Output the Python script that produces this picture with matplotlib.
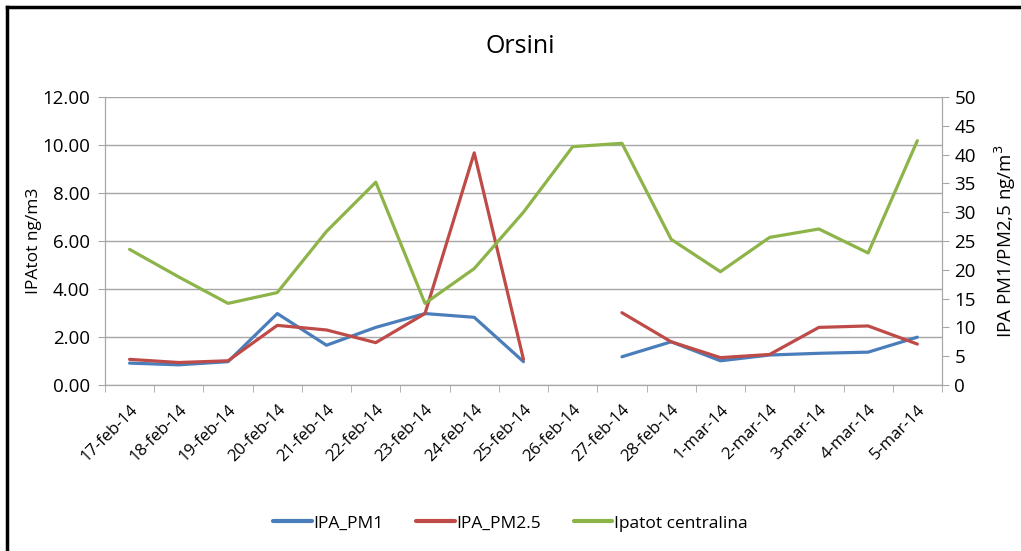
import numpy as np
import matplotlib.pyplot as plt

plt.rcParams['font.family'] = ['Open Sans', 'DejaVu Sans']

date_labels = ['17-feb-14', '18-feb-14', '19-feb-14', '20-feb-14', '21-feb-14', '22-feb-14',
               '23-feb-14', '24-feb-14', '25-feb-14', '26-feb-14', '27-feb-14', '28-feb-14',
               '1-mar-14', '2-mar-14', '3-mar-14', '4-mar-14', '5-mar-14']

# IPA PM1 / PM2.5 (right axis, ng/m3)
ipa_pm1 = [3.8, 3.5, 4.05, 12.4, 6.9, 10.0, 12.4, 11.75, 4.05, np.nan,
           4.9, 7.5, 4.2, 5.2, 5.5, 5.7, 8.3]
ipa_pm25 = [4.45, 3.9, 4.2, 10.35, 9.55, 7.35, 12.4, 40.3, 4.45, np.nan,
            12.55, 7.5, 4.75, 5.3, 10.0, 10.25, 7.1]
# IPAtot centralina (left axis, ng/m3)
ipatot = [5.65, 4.5, 3.4, 3.85, 6.4, 8.45, 3.4, 4.85, 7.2, 9.93,
          10.07, 6.07, 4.72, 6.15, 6.5, 5.5, 10.18]

c_blue = '#4A7EBB'
c_red = '#BE4B48'
c_green = '#8DB449'
c_grid = '#A6A6A6'

fig = plt.figure(figsize=(10.21, 5.51), dpi=100)
ax = fig.add_axes([0.1028, 0.3013, 0.8198, 0.5227])
ax2 = ax.twinx()

x = np.arange(len(date_labels))
l1, = ax2.plot(x, ipa_pm1, color=c_blue, lw=2.3, solid_capstyle='round', label='IPA_PM1')
l2, = ax2.plot(x, ipa_pm25, color=c_red, lw=2.3, solid_capstyle='round', label='IPA_PM2.5')
l3, = ax2.plot(x, np.array(ipatot) * 50 / 12, color=c_green, lw=2.3,
               solid_capstyle='round', label='Ipatot centralina')

ax.set_ylim(0, 12)
ax2.set_ylim(0, 50)
ax.set_xlim(-0.5, len(date_labels) - 0.5)

ax.set_yticks(np.arange(0, 12.01, 2))
ax.set_yticklabels([f'{v:.2f}' for v in np.arange(0, 12.01, 2)])
ax2.set_yticks(np.arange(0, 51, 5))
ax.yaxis.grid(True, color=c_grid, lw=1)
ax.set_axisbelow(True)

ax.set_xticks(x)
ax.set_xticklabels(date_labels, rotation=45, ha='right', rotation_mode='anchor', fontsize=12)
ax.set_xticks(np.arange(-0.5, len(date_labels), 1), minor=True)
ax.tick_params(axis='x', which='major', length=0, pad=12)
ax.tick_params(axis='x', which='minor', length=5, color=c_grid)
ax.tick_params(axis='y', length=5, color=c_grid, labelsize=13.5, pad=6)
ax2.tick_params(axis='y', length=5, color=c_grid, labelsize=13.5, pad=4)

for a in (ax, ax2):
    a.spines['top'].set_visible(False)
    for s in ('left', 'right', 'bottom'):
        a.spines[s].set_color(c_grid)

ax.set_ylabel('IPAtot ng/m3', fontsize=12.5, labelpad=0)
ax2.set_ylabel('IPA PM1/PM2,5 ng/m$^3$', fontsize=13.5, labelpad=12)
fig.text(0.51, 0.915, 'Orsini', ha='center', va='center', fontsize=18)

leg = fig.legend(handles=[l1, l2, l3], loc='center', bbox_to_anchor=(0.5, 0.05), ncol=3,
                 frameon=False, fontsize=12.5, handlelength=2.2, handletextpad=0.1,
                 columnspacing=1.9)
for h in leg.get_lines():
    h.set_linewidth(3)

# black frame lines along top and left edge
fig.add_artist(plt.Line2D([0.007, 1.0], [0.988, 0.988], transform=fig.transFigure, color='black', lw=2.5))
fig.add_artist(plt.Line2D([0.007, 0.007], [0.0, 0.988], transform=fig.transFigure, color='black', lw=2.5))

fig.savefig('out.png', dpi=100)
